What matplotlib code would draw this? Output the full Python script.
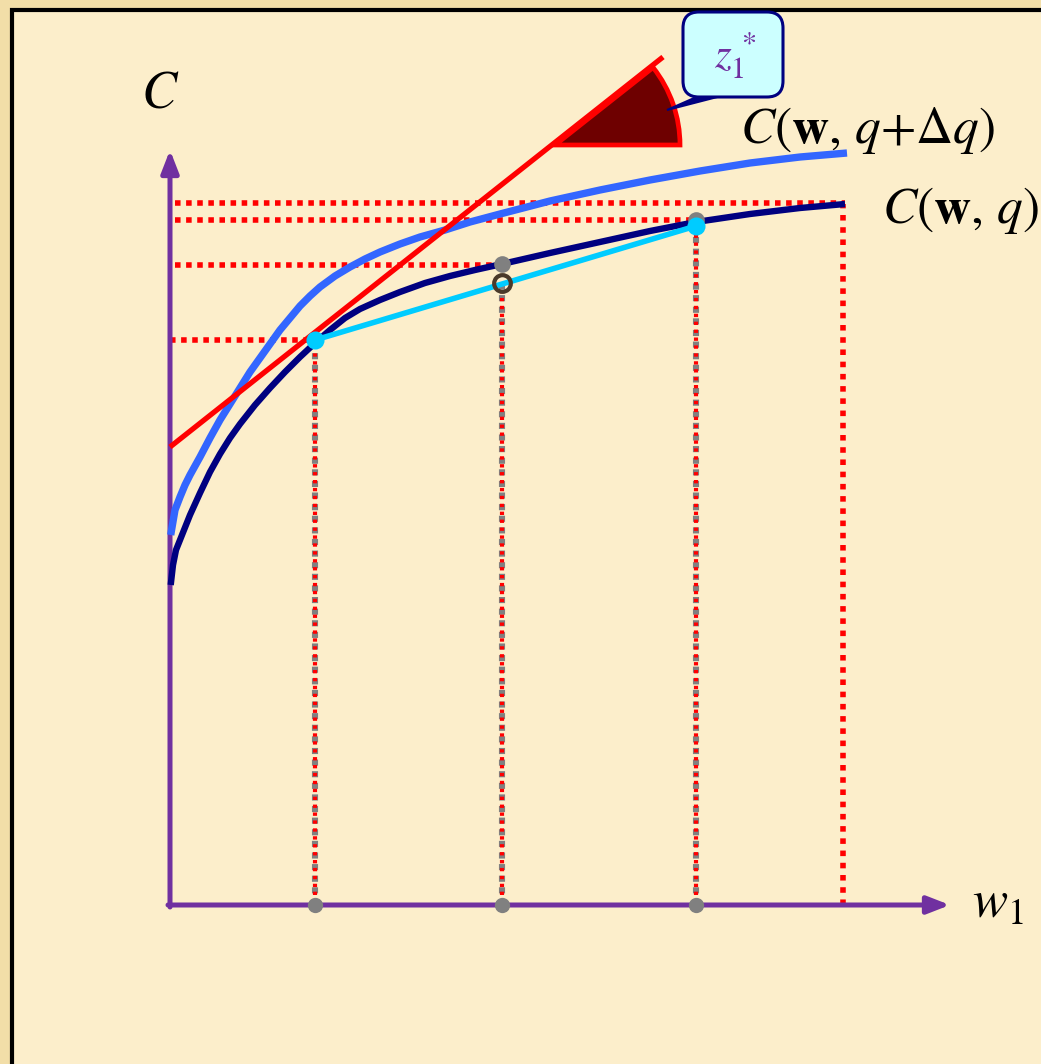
import matplotlib
matplotlib.use('Agg')
import matplotlib.pyplot as plt
from matplotlib.patches import Rectangle, Wedge, FancyBboxPatch, Polygon

plt.rcParams['mathtext.fontset'] = 'stix'
plt.rcParams['font.family'] = ['STIXGeneral', 'DejaVu Serif']

# cost curve C(w, q) (w1 from the origin, C upwards)
w_low = [0.7, 3, 6, 10, 20, 30, 40, 50, 60, 70, 85, 100, 115, 130, 145, 160, 175,
         190, 210, 230, 255, 280, 305, 332, 380, 430, 480, 526, 580, 630, 675]
c_low = [320, 340, 355, 365, 390, 412, 433, 451, 467, 481, 500, 517, 533, 548, 562,
         575, 587, 596, 605, 613, 622, 629, 635, 641, 652, 663, 674, 683, 691, 697, 701]

# cost curve C(w, q+dq)
w_high = [0.7, 5, 10, 15, 20, 30, 40, 50, 60, 70, 80, 90, 100, 110, 120, 130, 140,
          150, 165, 180, 195, 210, 230, 250, 275, 300, 330, 380, 430, 480, 530, 580,
          630, 677]
c_high = [370, 395, 408, 420, 430, 448, 467, 485, 501, 517, 533, 547, 561, 575, 587,
          599, 609, 618, 629, 638, 646, 653, 661, 668, 675, 683, 691, 704, 715, 725,
          734, 742, 748, 752]

# tangent line at the first price point
w_tan = [0, 493]
c_tan = [458, 848]

# price points on the w1 axis
w_pts = [145, 332, 526]
c_on_curve = [563, 641, 683]
c_chord = [565, 622, 679]
w_right = 673

# horizontal guide levels and where they stop
h_levels = [702, 685, 640, 565]
h_ends = [675, 526, 332, 145]
h_starts = [5, 5, 5, 0]

purple = '#7030A0'
navy = '#000080'
blue = '#3366FF'
cyan = '#00CCFF'
red = '#FF0000'
gray = '#808080'

fig = plt.figure(figsize=(10.41, 10.64), dpi=100, facecolor='#F2DEA8')
ax = fig.add_axes([0, 0, 1, 1])
ax.set_xlim(-170, 871)
ax.set_ylim(-159, 905)
ax.axis('off')

# slide frame
ax.add_patch(Rectangle((-158, -200), 1100, 1095, facecolor='#FCEECB',
                       edgecolor='black', lw=3, zorder=0))

dot = dict(dash_capstyle='butt', solid_capstyle='butt')

# horizontal red dotted guides
for lev, x0, x1 in zip(h_levels, h_starts, h_ends):
    ax.plot([x0, x1], [lev, lev], color=red, lw=4.0, ls=(0, (1, 1)), zorder=2, **dot)

# vertical guides: gray and red alternating
for w, c in zip(w_pts, c_chord):
    ax.plot([w, w], [0, c], color=gray, lw=4.4, ls=(0, (1, 0.9)), zorder=2, **dot)
    ax.plot([w, w], [0, c], color=red, lw=3.0, ls=(1.4, (0.8, 1.1)), zorder=2, **dot)
ax.plot([w_right, w_right], [0, 701], color=red, lw=4.0, ls=(0, (1, 1.2)), zorder=2, **dot)

# axes with arrows
head = dict(arrowstyle='-|>,head_length=0.9,head_width=0.35', lw=3.6, color=purple,
            mutation_scale=15, shrinkA=0, shrinkB=0)
ax.annotate('', xy=(0, 755), xytext=(0, -2), arrowprops=head, zorder=3)
ax.annotate('', xy=(780, 0), xytext=(-2, 0), arrowprops=head, zorder=3)

# curves
ax.plot(w_high, c_high, color=blue, lw=5.3, solid_capstyle='butt', zorder=4)
ax.plot(w_low, c_low, color=navy, lw=4.6, solid_capstyle='butt', zorder=5)
ax.plot(w_tan, c_tan, color=red, lw=3.8, solid_capstyle='butt', zorder=6)
ax.plot([w_pts[0], w_pts[2]], [c_chord[0], c_chord[2]], color=cyan, lw=4.0, zorder=7)

# points
ax.plot(w_pts, [0, 0, 0], 'o', color=gray, ms=11, mec='none', zorder=8)
ax.plot([w_pts[1], w_pts[2]], [c_on_curve[1], c_on_curve[2] + 2], 'o', color=gray,
        ms=12, mec='none', zorder=8)
ax.plot([w_pts[0], w_pts[2]], [c_chord[0], c_chord[2]], 'o', color=cyan, ms=13,
        mec='none', zorder=9)
ax.plot(w_pts[1], c_chord[1], 'o', mfc='none', mec='#4A3A2A', mew=3, ms=12, zorder=9)

# angle wedge marking z1*
ax.add_patch(Wedge((385, 760), 125, 0, 38.3, facecolor='#6E0000', edgecolor=red,
                   lw=3.4, zorder=6))

# callout
ax.add_patch(Polygon([(531, 810), (555, 810), (497, 795)], closed=True,
                     facecolor=navy, edgecolor=navy, lw=1.5, zorder=10))
ax.add_patch(FancyBboxPatch((513, 808), 100, 85,
                            boxstyle='round,pad=0,rounding_size=16',
                            facecolor='#CCFFFF', edgecolor=navy, lw=2.2, zorder=11))
ax.text(565, 850, r'$z_1^{\,*}$', color=purple, fontsize=31, ha='center',
        va='center', zorder=12)

# labels
ax.text(-10, 810, r'$C$', fontsize=38, ha='center', va='center')
ax.text(570, 762, r'$C(\mathbf{w},\, q{+}\Delta q)$', fontsize=37, ha='left',
        va='baseline')
ax.text(712, 682, r'$C(\mathbf{w},\, q)$', fontsize=37, ha='left', va='baseline')
ax.text(802, -13, r'$w_1$', fontsize=38, ha='left', va='baseline')

fig.savefig('out.png', dpi=100, facecolor=fig.get_facecolor())
